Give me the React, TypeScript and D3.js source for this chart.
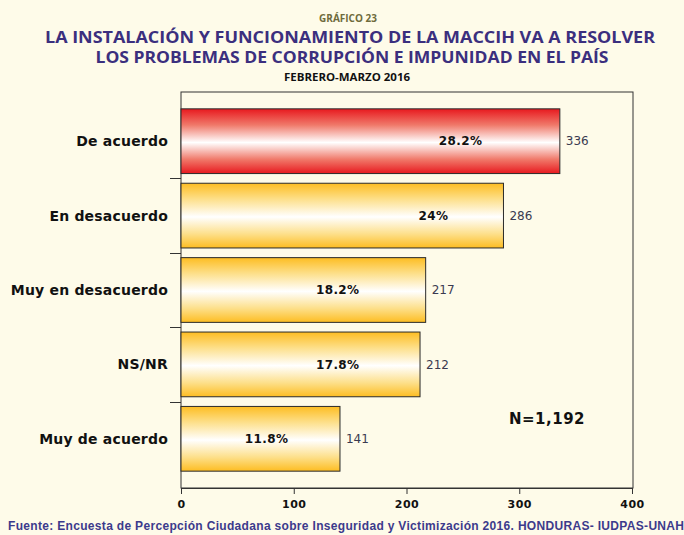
import React, { useEffect, useRef } from 'react';
import * as d3 from 'd3';

const categories = ['De acuerdo', 'En desacuerdo', 'Muy en desacuerdo', 'NS/NR', 'Muy de acuerdo'];
const counts = [336, 286, 217, 212, 141];
const percents = ['28.2%', '24%', '18.2%', '17.8%', '11.8%'];
// where the percent label sits along each bar, in axis units
const percentAnchors = [248, 224, 139, 139, 76];
const xTicks = [0, 100, 200, 300, 400];

const W = 684;
const H = 535;

const App = () => {
  const ref = useRef<SVGSVGElement>(null);

  useEffect(() => {
    const svg = d3.select(ref.current);
    svg.selectAll('*').remove();

    const plot = { left: 181, right: 633, top: 92, bottom: 488 };

    svg.append('rect').attr('width', W).attr('height', H).attr('fill', '#fefbe9');

    const defs = svg.append('defs');
    const grad = (id: string, edge: string, mid: string) => {
      const g = defs.append('linearGradient').attr('id', id).attr('x1', 0).attr('y1', 0).attr('x2', 0).attr('y2', 1);
      g.append('stop').attr('offset', '0%').attr('stop-color', edge);
      g.append('stop').attr('offset', '25%').attr('stop-color', mid);
      g.append('stop').attr('offset', '52%').attr('stop-color', '#ffffff');
      g.append('stop').attr('offset', '78%').attr('stop-color', mid);
      g.append('stop').attr('offset', '100%').attr('stop-color', edge);
    };
    grad('gRed', '#e8191f', '#f0796a');
    grad('gGold', '#fdbd22', '#fde08c');

    // titles
    svg.append('text').attr('x', 348).attr('y', 22).attr('text-anchor', 'middle')
      .attr('font-family', 'Open Sans').attr('font-weight', 700).attr('font-size', 10)
      .attr('fill', '#6e6b3c').text('GRÁFICO 23');
    svg.append('text').attr('x', 350).attr('y', 43).attr('text-anchor', 'middle')
      .attr('font-family', 'Open Sans').attr('font-weight', 700).attr('font-size', 16)
      .attr('fill', '#3b2f7e').attr('textLength', 610).attr('lengthAdjust', 'spacingAndGlyphs')
      .text('LA INSTALACIÓN Y FUNCIONAMIENTO DE LA  MACCIH  VA A RESOLVER');
    svg.append('text').attr('x', 352).attr('y', 63).attr('text-anchor', 'middle')
      .attr('font-family', 'Open Sans').attr('font-weight', 700).attr('font-size', 16)
      .attr('fill', '#3b2f7e').attr('textLength', 513).attr('lengthAdjust', 'spacingAndGlyphs')
      .text('LOS PROBLEMAS DE CORRUPCIÓN E IMPUNIDAD EN EL PAÍS');
    svg.append('text').attr('x', 347).attr('y', 81).attr('text-anchor', 'middle')
      .attr('font-family', 'Open Sans').attr('font-weight', 700).attr('font-size', 10)
      .attr('fill', '#111').attr('textLength', 126).attr('lengthAdjust', 'spacingAndGlyphs')
      .text('FEBRERO-MARZO 2016');

    const x = d3.scaleLinear().domain([0, 400]).range([plot.left, plot.right - 1]);
    const y = d3.scaleBand<string>().domain(categories).range([104, 476]).paddingInner(0.13).paddingOuter(0.065);

    // plot frame
    svg.append('rect')
      .attr('x', plot.left).attr('y', plot.top)
      .attr('width', plot.right - plot.left).attr('height', plot.bottom - plot.top)
      .attr('fill', 'none').attr('stroke', '#333').attr('stroke-width', 1);

    // bars
    const bars = svg.append('g');
    categories.forEach((c, i) => {
      bars.append('rect')
        .attr('x', x(0)).attr('y', y(c)!)
        .attr('width', x(counts[i]) - x(0)).attr('height', y.bandwidth())
        .attr('fill', i === 0 ? 'url(#gRed)' : 'url(#gGold)')
        .attr('stroke', '#2a2a2a').attr('stroke-width', 1);
      const cy = y(c)! + y.bandwidth() / 2;
      bars.append('text')
        .attr('x', x(percentAnchors[i])).attr('y', cy).attr('dy', '0.35em')
        .attr('text-anchor', 'middle')
        .attr('font-family', 'DejaVu Sans').attr('font-weight', 700).attr('font-size', 12)
        .attr('letter-spacing', 0.4)
        .attr('fill', '#111').text(percents[i]);
      bars.append('text')
        .attr('x', x(counts[i]) + 6).attr('y', cy).attr('dy', '0.35em')
        .attr('font-family', 'DejaVu Sans').attr('font-size', 12)
        .attr('fill', '#3a3a50').text(counts[i]);
      bars.append('text')
        .attr('x', 168).attr('y', cy).attr('dy', '0.35em')
        .attr('text-anchor', 'end')
        .attr('font-family', 'DejaVu Sans').attr('font-weight', 700).attr('font-size', 14)
        .attr('letter-spacing', 0.2)
        .attr('fill', '#111').text(c);
    });

    // category separators on the left axis
    const step = y.step();
    categories.slice(1).forEach(c => {
      const yy = Math.round(y(c)! - (step - y.bandwidth()) / 2) + 0.5;
      svg.append('line').attr('x1', plot.left - 11).attr('x2', plot.left)
        .attr('y1', yy).attr('y2', yy).attr('stroke', '#333');
    });

    // bottom axis
    const ax = svg.append('g')
      .attr('transform', `translate(0,${plot.bottom})`)
      .call(d3.axisBottom(x).tickValues(xTicks).tickSize(6).tickFormat(d3.format('d')));
    ax.select('.domain').attr('stroke', '#333');
    ax.selectAll('line').attr('stroke', '#333');
    ax.selectAll('text')
      .attr('font-family', 'DejaVu Sans').attr('font-weight', 700).attr('font-size', 11)
      .attr('letter-spacing', 0.5)
      .attr('fill', '#111').attr('dy', '1em');

    svg.append('text').attr('x', 547).attr('y', 424).attr('text-anchor', 'middle')
      .attr('font-family', 'DejaVu Sans').attr('font-weight', 700).attr('font-size', 15)
      .attr('letter-spacing', 0.5)
      .attr('fill', '#111').text('N=1,192');

    svg.append('text').attr('x', 8).attr('y', 530)
      .attr('font-family', 'Liberation Sans').attr('font-weight', 700).attr('font-size', 12)
      .attr('fill', '#3c3a8c').attr('textLength', 676).attr('lengthAdjust', 'spacing')
      .text('Fuente: Encuesta de Percepción Ciudadana sobre Inseguridad y Victimización 2016. HONDURAS- IUDPAS-UNAH');
  }, []);

  return (
    <svg ref={ref} width={W} height={H} style={{ position: 'absolute', left: 0, top: 0 }} />
  );
};

export default App;
